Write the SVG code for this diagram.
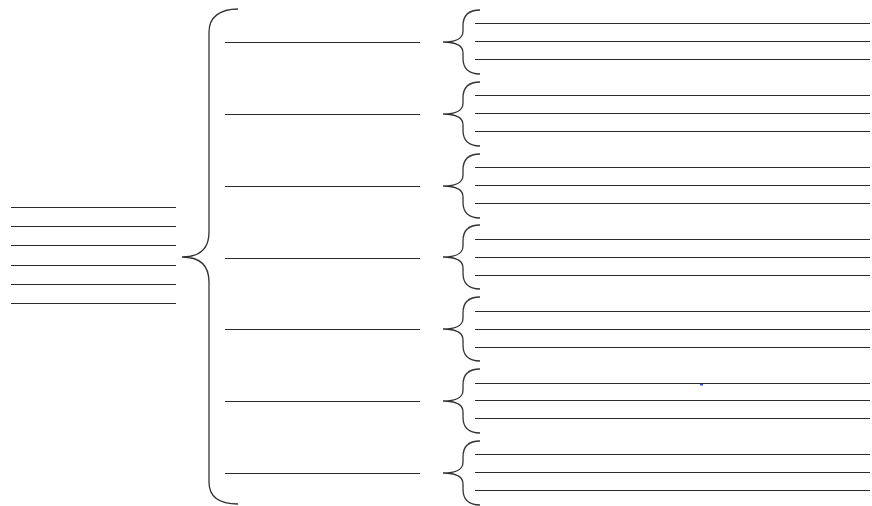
<svg xmlns="http://www.w3.org/2000/svg" width="872" height="506" viewBox="0 0 872 506">
<style>
.ln{stroke:#2a2a2a;stroke-width:1;fill:none}
.br{stroke:#333;stroke-width:1.3;fill:none}
</style>
<defs>
<path id="sb" class="br" d="M480,-32 C468,-32 463,-26 463,-16 L463,-11 C463,-3 456,0 443,0 C456,0 463,3 463,11 L463,16 C463,26 468,32 480,32"/>
</defs>
<rect width="872" height="506" fill="#fff"/>
<g id="root">
<line class="ln" x1="11" y1="207.5" x2="176" y2="207.5"/>
<line class="ln" x1="11" y1="226.5" x2="176" y2="226.5"/>
<line class="ln" x1="11" y1="245.5" x2="176" y2="245.5"/>
<line class="ln" x1="11" y1="265.5" x2="176" y2="265.5"/>
<line class="ln" x1="11" y1="284.5" x2="176" y2="284.5"/>
<line class="ln" x1="11" y1="303.5" x2="176" y2="303.5"/>
</g>
<g id="connectors">
<path class="br" d="M238,9 C220,9 209,17 209,32 L209,232 C209,249 200,257 182,257 C200,257 209,265 209,282 L209,482 C209,497 220,504 238,504"/>
<use href="#sb" y="42"/>
<use href="#sb" y="114"/>
<use href="#sb" y="186"/>
<use href="#sb" y="257"/>
<use href="#sb" y="329"/>
<use href="#sb" y="401"/>
<use href="#sb" y="473"/>
</g>
<g id="n1"><line class="ln" x1="225" y1="42.5" x2="420" y2="42.5"/>
<line class="ln" x1="475" y1="23.5" x2="870" y2="23.5"/><line class="ln" x1="475" y1="41.5" x2="870" y2="41.5"/><line class="ln" x1="475" y1="59.5" x2="870" y2="59.5"/></g>
<g id="n2"><line class="ln" x1="225" y1="114.5" x2="420" y2="114.5"/>
<line class="ln" x1="475" y1="95.5" x2="870" y2="95.5"/><line class="ln" x1="475" y1="113.5" x2="870" y2="113.5"/><line class="ln" x1="475" y1="131.5" x2="870" y2="131.5"/></g>
<g id="n3"><line class="ln" x1="225" y1="186.5" x2="420" y2="186.5"/>
<line class="ln" x1="475" y1="167.5" x2="870" y2="167.5"/><line class="ln" x1="475" y1="185.5" x2="870" y2="185.5"/><line class="ln" x1="475" y1="203.5" x2="870" y2="203.5"/></g>
<g id="n4"><line class="ln" x1="225" y1="258.5" x2="420" y2="258.5"/>
<line class="ln" x1="475" y1="239.5" x2="870" y2="239.5"/><line class="ln" x1="475" y1="257.5" x2="870" y2="257.5"/><line class="ln" x1="475" y1="275.5" x2="870" y2="275.5"/></g>
<g id="n5"><line class="ln" x1="225" y1="329.5" x2="420" y2="329.5"/>
<line class="ln" x1="475" y1="311.5" x2="870" y2="311.5"/><line class="ln" x1="475" y1="329.5" x2="870" y2="329.5"/><line class="ln" x1="475" y1="347.5" x2="870" y2="347.5"/></g>
<g id="n6"><line class="ln" x1="225" y1="401.5" x2="420" y2="401.5"/>
<line class="ln" x1="475" y1="383.5" x2="870" y2="383.5"/><line class="ln" x1="475" y1="400.5" x2="870" y2="400.5"/><line class="ln" x1="475" y1="418.5" x2="870" y2="418.5"/>
<rect x="700" y="384" width="3" height="1.5" fill="#3344ff"/></g>
<g id="n7"><line class="ln" x1="225" y1="473.5" x2="420" y2="473.5"/>
<line class="ln" x1="475" y1="454.5" x2="870" y2="454.5"/><line class="ln" x1="475" y1="472.5" x2="870" y2="472.5"/><line class="ln" x1="475" y1="490.5" x2="870" y2="490.5"/></g>
</svg>
